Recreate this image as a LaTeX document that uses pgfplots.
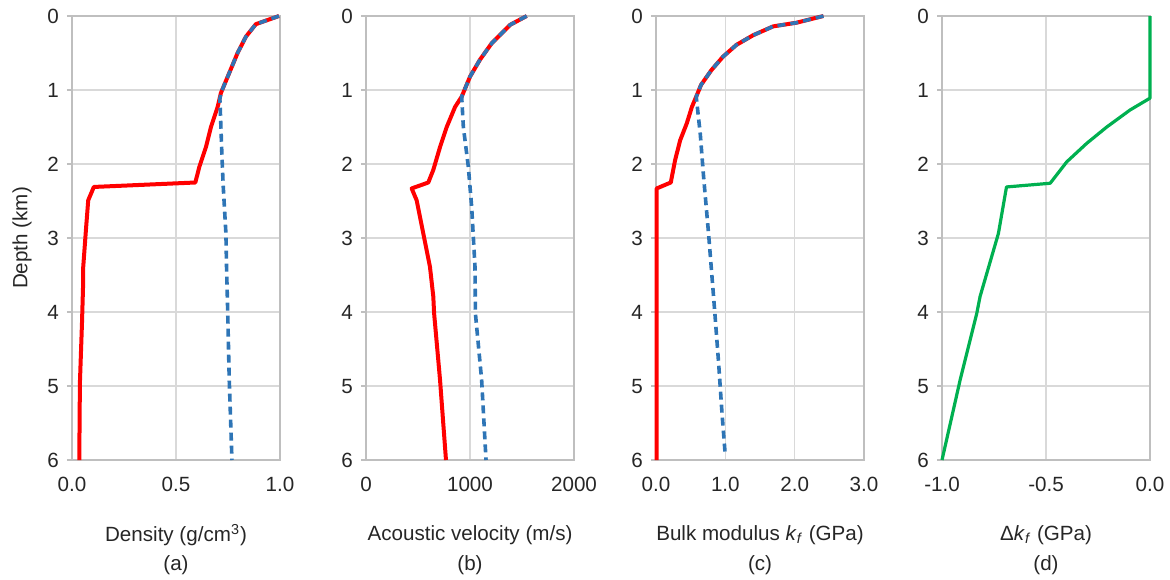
\documentclass[border=0pt]{standalone}
\usepackage{fontspec}
\setmainfont{Liberation Sans}
\usepackage{pgfplots}
\pgfplotsset{compat=1.18}

\definecolor{cred}{HTML}{FF0000}
\definecolor{cblue}{HTML}{2E75B6}
\definecolor{cgreen}{HTML}{00B050}
\definecolor{gridc}{HTML}{D9D9D9}
\definecolor{axc}{HTML}{BFBFBF}

\pgfplotsset{
  panel/.style={
    scale only axis, width=104pt, height=222pt,
    anchor=north west,
    y dir=reverse, ymin=0, ymax=6,
    ytick={0,1,2,3,4,5,6}, yticklabels={0,1,2,3,4,5,6},
    grid=major, grid style={gridc, line width=0.6pt},
    axis line style={axc, line width=0.8pt},
    xtick style={draw=none},
    ytick style={axc, line width=0.8pt},
    ytick pos=left, tick align=outside, major tick length=2.5pt,
    xticklabel style={yshift=-2.5pt},
    yticklabel style={xshift=-0.5pt},
    xlabel style={at={(axis description cs:0.5,0)}, anchor=center, yshift=-37.5pt},
    clip=false,
  },
  red line/.style={cred, line width=2pt, line join=round},
  blue line/.style={cblue, line width=1.8pt, dash pattern=on 4pt off 2.5pt},
  green line/.style={cgreen, line width=1.6pt, line join=round},
}

\begin{document}
\begin{tikzpicture}[font=\fontsize{10.3}{12}\selectfont, text=black!85]
\path[use as bounding box] (0,0) rectangle (585pt,-289.5pt);

% (a) density
\begin{axis}[panel, at={(36pt,-8pt)},
  xmin=0, xmax=1, xtick={0,0.5,1}, xticklabels={0.0,0.5,1.0},
  xlabel={Density (g/cm\textsuperscript{3})},
  ylabel={Depth (km)},
  ylabel style={at={(axis description cs:-0.24,0.5)}, anchor=center}]
\addplot[red line] coordinates {
 (0.995,0) (0.884,0.11) (0.836,0.28) (0.796,0.5) (0.756,0.77) (0.716,1.04)
 (0.700,1.23) (0.668,1.5) (0.644,1.77) (0.612,2.04) (0.593,2.25)
 (0.105,2.31) (0.078,2.49) (0.067,2.89) (0.054,3.39) (0.054,3.57)
 (0.048,4.15) (0.038,4.96) (0.035,6.0)};
\addplot[blue line] coordinates {
 (0.995,0) (0.884,0.11) (0.836,0.28) (0.796,0.5) (0.756,0.77) (0.716,1.04)
 (0.711,1.12) (0.721,1.9) (0.727,2.3) (0.740,2.94) (0.743,3.39) (0.748,3.93)
 (0.756,4.92) (0.769,6.0)};
\node at (axis description cs:0.5,0) [yshift=-52.5pt] {(a)};
\end{axis}

% (b) acoustic velocity
\begin{axis}[panel, at={(183pt,-8pt)},
  xmin=0, xmax=2000, xtick={0,1000,2000}, xticklabels={0,1000,2000},
  xlabel={Acoustic velocity (m/s)}]
\addplot[red line] coordinates {
 (1545,0) (1385,0.12) (1208,0.37) (1096,0.59) (1000,0.82) (920,1.09)
 (856,1.23) (776,1.5) (712,1.77) (647,2.08) (599,2.25) (439,2.33)
 (487,2.49) (551,2.94) (615,3.39) (647,3.79) (655,4.02) (712,4.92) (769,6.0)};
\addplot[blue line] coordinates {
 (1545,0) (1385,0.12) (1208,0.37) (1096,0.59) (1000,0.82) (920,1.09)
 (936,1.5) (984,2.04) (1016,2.58) (1048,3.39) (1052,4.02) (1112,4.92) (1154,6.0)};
\node at (axis description cs:0.5,0) [yshift=-52.5pt] {(b)};
\end{axis}

% (c) bulk modulus
\begin{axis}[panel, at={(328pt,-8pt)},
  xmin=0, xmax=3, xtick={0,1,2,3}, xticklabels={0.0,1.0,2.0,3.0},
  xlabel={Bulk modulus \textit{k}\textsubscript{\textit{f}} (GPa)}]
\addplot[red line] coordinates {
 (2.415,0) (2.03,0.09) (1.69,0.14) (1.40,0.26) (1.16,0.39) (0.966,0.55)
 (0.80,0.73) (0.65,0.93) (0.58,1.09) (0.517,1.23) (0.444,1.45)
 (0.348,1.68) (0.275,1.95) (0.213,2.25) (0.01,2.33) (0.01,6.0)};
\addplot[blue line] coordinates {
 (2.415,0) (2.03,0.09) (1.69,0.14) (1.40,0.26) (1.16,0.39) (0.966,0.55)
 (0.80,0.73) (0.65,0.93) (0.58,1.09) (0.638,1.59) (0.686,2.17)
 (0.758,2.94) (0.83,3.79) (0.845,3.97) (0.903,4.69) (0.952,5.37) (1.0,5.95)};
\node at (axis description cs:0.5,0) [yshift=-52.5pt] {(c)};
\end{axis}

% (d) change in bulk modulus
\begin{axis}[panel, at={(471pt,-8pt)},
  xmin=-1, xmax=0, xtick={-1,-0.5,0}, xticklabels={-1.0,-0.5,0.0},
  xlabel={Δ\textit{k}\textsubscript{\textit{f}} (GPa)}]
\addplot[green line] coordinates {
 (0,0) (0,1.11) (-0.096,1.27) (-0.208,1.50) (-0.304,1.72) (-0.40,1.97)
 (-0.48,2.26) (-0.69,2.31) (-0.729,2.94) (-0.817,3.79) (-0.833,4.02)
 (-0.913,4.92) (-1.0,6.0)};
\node at (axis description cs:0.5,0) [yshift=-52.5pt] {(d)};
\end{axis}
\end{tikzpicture}
\end{document}
